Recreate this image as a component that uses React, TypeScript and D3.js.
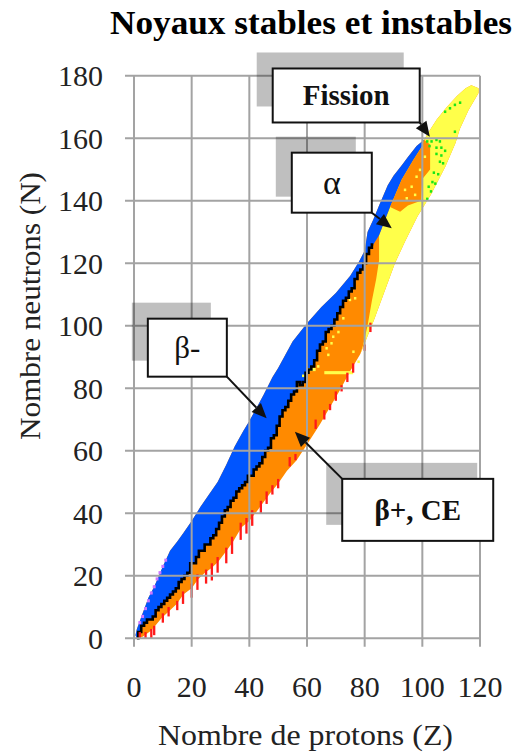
import React, { useRef, useEffect } from 'react';
import * as d3 from 'd3';

type Pt = [number, number];

const xTicks = [0, 20, 40, 60, 80, 100, 120];
const yTicks = [0, 20, 40, 60, 80, 100, 120, 140, 160, 180];

// neutron-rich limit (outer edge of the blue band), [Z, N]
const neutronEdge: Pt[] = [
  [0.5, 1], [1, 3], [3, 8], [5, 13], [7, 16.5], [10, 23], [12.5, 28], [15, 31], [17, 33.5],
  [20, 37.5], [23, 42], [26, 46], [29, 50], [32, 55.5], [35, 61.5], [38, 66.5], [40, 69.5],
  [45, 78], [48, 83.5], [50, 86.5], [55, 95], [60, 100.8], [65, 106], [70, 110.5], [75, 116],
  [78, 120.5], [80, 124], [81, 130], [83, 134], [85, 138.5], [88, 145], [90, 148], [93, 151.5],
  [95, 154], [98, 157.5], [100.6, 159.5],
];
// top of the heavy (alpha) region
const topEdge: Pt[] = [
  [100.6, 159.5], [102.7, 162.7], [105, 166], [108.5, 170], [112, 173.5], [115, 176], [117, 177], [119.5, 176],
];
// proton-rich limit (outer edge of the orange band)
const protonEdge: Pt[] = [
  [1, 0], [3, 0.5], [6, 2.5], [9.6, 6.5], [12.5, 9], [14.8, 11], [17.1, 14], [20, 16], [22.3, 19],
  [24.6, 21], [26.9, 22.5], [29.2, 24.5], [32.1, 28], [34.4, 31], [37.3, 35.5], [40, 37.5],
  [43.7, 42], [47.2, 46.4], [50, 49.5], [53, 53.5], [56.4, 57], [60, 62], [64.5, 68.5], [68, 74],
  [71.5, 79.5], [75, 85.5], [78.5, 91],
];
// lower edge of the alpha region
const alphaEdge: Pt[] = [
  [78.5, 91], [80.7, 96], [83.3, 102], [86.5, 110], [90.5, 120], [94, 127], [98.3, 135], [103, 142],
  [108, 151], [111.5, 158.5], [113, 163], [116, 169], [119.5, 174.5],
];
// stable nuclei: middle N of the stable isotopes, Z = 1..83
const stableN = [
  0, 2, 4, 5, 6, 6, 7, 9, 10, 11, 12, 13, 14, 15, 16, 18, 19, 20, 21, 24,
  24, 26, 28, 28, 30, 30, 32, 33, 35, 37, 39, 41, 42, 44, 45, 47, 48, 49, 50, 52,
  52, 54, 55, 56, 58, 60, 61, 64, 65, 68, 71, 73, 74, 76, 78, 79, 82, 81, 82, 85,
  86, 87, 89, 92, 94, 95, 98, 99, 100, 102, 104, 106, 108, 109, 111, 112, 115, 117, 118, 120,
  123, 125, 126,
];
// boundary blue / alpha above lead
const blueInner: Pt[] = [
  [83, 126], [85, 129], [88.8, 138], [92.8, 146.7], [96.8, 153], [99.8, 157.3], [100.6, 159.5],
];
// boundary orange / alpha along the lower edge
const yellowSplit: Pt[] = [[78.5, 91], [79.5, 94], [81, 100], [82.5, 108], [84, 115], [85, 121]];
// beta+ patch inside the heavy region
const orangeHeavy: Pt[] = [
  [88.8, 138], [92.8, 146.7], [96.8, 153], [99.8, 157.3], [100.6, 159.5], [102.7, 158], [102.7, 150],
  [100, 147], [99.5, 140], [95, 138.5], [92.3, 136.5],
];
// proton emitters [Z, Nlow, Nhigh]
const redTicks: [number, number, number][] = [
  [2, 0, 1], [4, 0, 1], [6, 0, 2], [7, 1, 3], [10, 5, 7], [12, 7, 9], [15, 9, 11], [17, 11, 14],
  [20, 13, 16.5], [22, 15.5, 19.5], [25, 17.5, 21], [27, 18.5, 23], [29, 21, 25], [32, 24, 28],
  [34, 27, 31.5], [37, 31.5, 36], [39, 33.5, 37.5], [41, 36, 40], [44, 40, 43], [46, 43, 46],
  [48, 46, 48], [50, 48, 50], [54, 55, 57], [56, 57, 58], [63, 67, 69], [66, 70, 72], [68, 73, 74],
  [70, 76, 78], [72, 79, 80], [74, 82, 84], [76, 85, 87], [80, 92, 93], [82, 98, 100],
];
// spontaneous fission
const greenCells: Pt[] = [
  [101.7, 159], [103.2, 159], [104.9, 159.5], [106.1, 159], [102.5, 157.5], [104.9, 157], [106.6, 157],
  [107.9, 156], [104.9, 155], [106.6, 154.5], [106.1, 152.5], [107.2, 152], [104, 149], [105.5, 148.5],
  [103.5, 146], [104.5, 145.5], [102.2, 144.5], [103, 143], [101.7, 140.6], [107.9, 168.5],
  [109.6, 169.6], [111.3, 170.7], [113.1, 171.4], [111.3, 162.1],
];
// neutron emitters
const violetCells: Pt[] = [[2, 5], [3, 7], [4, 9.5], [5, 12], [6, 14.5], [7, 16.5], [8, 19], [9, 21], [10, 23], [11, 25]];
// scattered alpha emitters
const yellowCells: Pt[] = [
  [58.7, 84], [63.9, 87], [67.4, 90.7], [66.8, 92.8], [68.5, 94.4], [69.1, 96.5], [70.9, 98],
  [72.6, 102.4], [74.9, 108.3], [76.7, 108.8], [76.1, 91.7], [77.9, 88.5], [94, 143.5], [96.3, 144.5],
  [98, 147.7], [94.6, 140.8], [97.5, 141.9], [99.2, 149.9], [100.9, 154.1],
];
const yellowBars: [number, number, number][] = [[66, 76, 85], [60, 63, 86]];

const notes = [
  { text: 'Fission', bold: true, size: 29, z: 73.6, n: 173.7, w: 147, h: 54, from: 'br', tz: 102.6, tn: 160.5 },
  { text: 'α', bold: false, size: 34, z: 68.6, n: 145.8, w: 80, h: 60, from: 'br', tz: 89.4, tn: 131.2 },
  { text: 'β-', bold: false, size: 31, z: 18.5, n: 93, w: 79, h: 58, from: 'br', tz: 46, tn: 70.4 },
  { text: 'β+, CE', bold: true, size: 29, z: 98.4, n: 41.1, w: 151, h: 62, from: 'tl', tz: 55.8, tn: 66.1 },
];

export default function App() {
  const ref = useRef<SVGSVGElement>(null);

  useEffect(() => {
    document.body.style.margin = '0';
    const svg = d3.select(ref.current);
    svg.selectAll('*').remove();

    const x = d3.scaleLinear().domain([0, 120]).range([134, 480]);
    const y = d3.scaleLinear().domain([0, 180]).range([638.3, 75.8]);
    const line = d3.line<Pt>().x((d) => x(d[0])).y((d) => y(d[1]));
    const stepLine = d3.line<Pt>().x((d) => x(d[0])).y((d) => y(d[1])).curve(d3.curveStep);
    const rev = (a: Pt[]) => a.slice().reverse();
    const stable: Pt[] = stableN.map((n, i) => [i + 1, n]);
    const font = 'Liberation Serif, Times New Roman, serif';

    const g = svg.append('g');

    // whole band, beta+ colour
    g.append('path')
      .attr('d', line([...neutronEdge, ...topEdge, ...rev(alphaEdge), ...rev(protonEdge)]) + 'Z')
      .attr('fill', '#ff8a00');

    // alpha region
    g.append('path')
      .attr('d', line([...yellowSplit, ...blueInner.filter((p) => p[0] >= 85), ...topEdge, ...rev(alphaEdge)]) + 'Z')
      .attr('fill', '#ffff4a');

    // beta- region
    g.append('path')
      .attr('d', line([...neutronEdge, ...rev(blueInner)]) + (stepLine(rev(stable)) || '').replace(/^M/, 'L') + 'Z')
      .attr('fill', '#0055ff');

    g.append('path').attr('d', line(orangeHeavy) + 'Z').attr('fill', '#ff8a00');

    const cw = x(1) - x(0);
    const ch = y(0) - y(1);

    g.selectAll('rect.ybar')
      .data(yellowBars)
      .join('rect')
      .attr('x', (d) => x(d[0]))
      .attr('y', (d) => y(d[2]) - ch / 2)
      .attr('width', (d) => x(d[1]) - x(d[0]))
      .attr('height', ch)
      .attr('fill', '#ffff4a');

    g.selectAll('rect.ycell')
      .data(yellowCells)
      .join('rect')
      .attr('x', (d) => x(d[0]) - 1.2)
      .attr('y', (d) => y(d[1]) - 1.3)
      .attr('width', 2.4)
      .attr('height', 2.6)
      .attr('fill', '#ffff4a');

    // stable nuclei
    g.append('path')
      .attr('d', stepLine(stable))
      .attr('fill', 'none')
      .attr('stroke', '#000')
      .attr('stroke-width', 2.6);

    g.selectAll('rect.red')
      .data(redTicks)
      .join('rect')
      .attr('x', (d) => x(d[0]) - cw * 0.4)
      .attr('y', (d) => y(d[2] + 1))
      .attr('width', cw * 0.8)
      .attr('height', (d) => y(d[1]) - y(d[2] + 1))
      .attr('fill', '#ff1a1a');

    g.selectAll('rect.green')
      .data(greenCells)
      .join('rect')
      .attr('x', (d) => x(d[0]) - 1.2)
      .attr('y', (d) => y(d[1]) - 1.3)
      .attr('width', 2.4)
      .attr('height', 2.6)
      .attr('fill', '#19e619');

    g.selectAll('rect.violet')
      .data(violetCells)
      .join('rect')
      .attr('x', (d) => x(d[0]) - cw / 2)
      .attr('y', (d) => y(d[1]) - ch / 2)
      .attr('width', cw)
      .attr('height', ch)
      .attr('fill', '#cc77ff');

    // grid on top of the data
    const grid = svg.append('g').attr('stroke', '#a3a3a3').attr('stroke-width', 2);
    grid.selectAll('line.h')
      .data(yTicks)
      .join('line')
      .attr('x1', x(0) - 9)
      .attr('x2', x(120))
      .attr('y1', (d) => y(d))
      .attr('y2', (d) => y(d));
    grid.selectAll('line.v')
      .data(xTicks)
      .join('line')
      .attr('x1', (d) => x(d))
      .attr('x2', (d) => x(d))
      .attr('y1', y(180))
      .attr('y2', y(0) + 8.5);

    svg.append('g')
      .selectAll('text')
      .data(yTicks)
      .join('text')
      .attr('x', 103)
      .attr('y', (d) => y(d))
      .attr('dy', '0.34em')
      .attr('text-anchor', 'end')
      .attr('font-family', font)
      .attr('font-size', 30)
      .attr('fill', '#222')
      .text((d) => d);

    svg.append('g')
      .selectAll('text')
      .data(xTicks)
      .join('text')
      .attr('x', (d) => x(d))
      .attr('y', 697)
      .attr('text-anchor', 'middle')
      .attr('font-family', font)
      .attr('font-size', 30)
      .attr('fill', '#222')
      .text((d) => d);

    svg.append('text')
      .attr('x', 311)
      .attr('y', 34)
      .attr('text-anchor', 'middle')
      .attr('font-family', font)
      .attr('font-weight', 'bold')
      .attr('font-size', 33)
      .attr('textLength', 402)
      .attr('lengthAdjust', 'spacingAndGlyphs')
      .text('Noyaux stables et instables');

    svg.append('text')
      .attr('x', 305.5)
      .attr('y', 745)
      .attr('text-anchor', 'middle')
      .attr('font-family', font)
      .attr('font-size', 30)
      .attr('fill', '#222')
      .attr('textLength', 295)
      .attr('lengthAdjust', 'spacingAndGlyphs')
      .text('Nombre de protons (Z)');

    svg.append('text')
      .attr('transform', 'translate(29,306) rotate(-90)')
      .attr('dy', '0.35em')
      .attr('text-anchor', 'middle')
      .attr('font-family', font)
      .attr('font-size', 30)
      .attr('fill', '#222')
      .attr('textLength', 268)
      .attr('lengthAdjust', 'spacingAndGlyphs')
      .text('Nombre neutrons (N)');

    // annotation boxes
    const ann = svg.append('g');
    notes.forEach((d) => {
      const left = x(d.z) - d.w / 2;
      const top = y(d.n) - d.h / 2;
      ann.append('rect')
        .attr('x', left - 16)
        .attr('y', top - 16)
        .attr('width', d.w)
        .attr('height', d.h)
        .attr('fill', '#000')
        .attr('fill-opacity', 0.25);
    });
    notes.forEach((d) => {
      const cx = x(d.z);
      const cy = y(d.n);
      const left = cx - d.w / 2;
      const top = cy - d.h / 2;
      ann.append('rect')
        .attr('x', left)
        .attr('y', top)
        .attr('width', d.w)
        .attr('height', d.h)
        .attr('fill', '#fff')
        .attr('stroke', '#111')
        .attr('stroke-width', 2);
      ann.append('text')
        .attr('x', cx)
        .attr('y', cy)
        .attr('dy', '0.34em')
        .attr('text-anchor', 'middle')
        .attr('font-family', font)
        .attr('font-weight', d.bold ? 'bold' : 'normal')
        .attr('font-size', d.size)
        .attr('fill', '#111')
        .text(d.text);

      const sx = d.from === 'br' ? left + d.w : left;
      const sy = d.from === 'br' ? top + d.h : top;
      const tx = x(d.tz);
      const ty = y(d.tn);
      const len = Math.hypot(tx - sx, ty - sy);
      const ux = (tx - sx) / len;
      const uy = (ty - sy) / len;
      const bx = tx - ux * 15;
      const by = ty - uy * 15;
      ann.append('line')
        .attr('x1', sx)
        .attr('y1', sy)
        .attr('x2', bx)
        .attr('y2', by)
        .attr('stroke', '#111')
        .attr('stroke-width', 2);
      ann.append('path')
        .attr('d', `M${tx},${ty}L${bx - uy * 6.5},${by + ux * 6.5}L${bx + uy * 6.5},${by - ux * 6.5}Z`)
        .attr('fill', '#111');
    });
  }, []);

  return <svg ref={ref} width={518} height={754} style={{ display: 'block', background: '#fff' }} />;
}
